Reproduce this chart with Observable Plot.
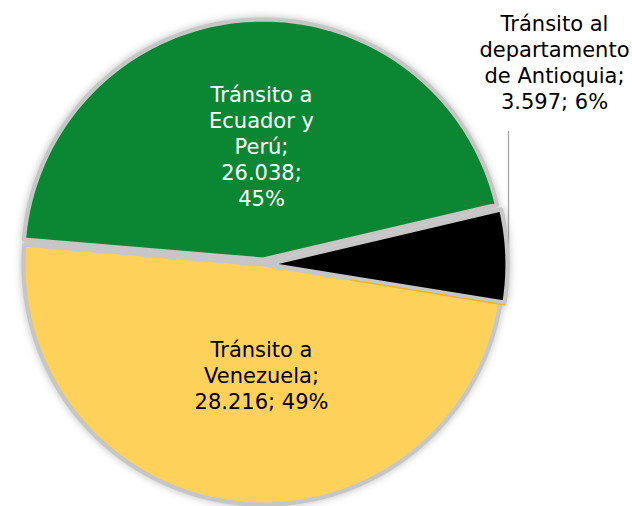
<!DOCTYPE html>
<html><head><meta charset="utf-8">
<script src="https://cdn.jsdelivr.net/npm/d3@7"></script>
<script src="https://cdn.jsdelivr.net/npm/@observablehq/plot@0.6"></script>
<style>html,body{margin:0;padding:0;background:#fff}</style>
</head><body><div id="chart"></div>
<script>
// ---- data ----
const categories = ["Tránsito al departamento de Antioquia", "Tránsito a Venezuela", "Tránsito a Ecuador y Perú"];
const values = [3597, 28216, 26038];
const percents = ["6%", "49%", "45%"];
const nameLines = [["Tránsito al", "departamento", "de Antioquia;"], ["Tránsito a", "Venezuela;"], ["Tránsito a", "Ecuador y", "Perú;"]];
const colors = ["#000000", "#fed25a", "#0b8734"];

// ---- layout ----
const W = 632, H = 506;
const cx = 263, cy = 264, R = 240;
const explode = [4, 0, 5];
const startDeg = 76.8;
const labelPos = [[554, 61], [261, 374], [261, 145]];
const labelColor = ["#000", "#000", "#fff"];
const splitValue = [false, false, true];

const fmt = d3.formatLocale({decimal: ",", thousands: ".", grouping: [3], currency: ["", ""]}).format(",d");

const arcs = d3.pie().sort(null)
  .startAngle(startDeg * Math.PI / 180)
  .endAngle(startDeg * Math.PI / 180 + 2 * Math.PI)(values);

function slicePoints(i) {
  const a = arcs[i];
  const mid = (a.startAngle + a.endAngle) / 2;
  const ox = cx + explode[i] * Math.sin(mid), oy = cy - explode[i] * Math.cos(mid);
  const pts = [{x: ox, y: oy}];
  const n = 120;
  for (let k = 0; k <= n; k++) {
    const t = a.startAngle + (a.endAngle - a.startAngle) * k / n;
    pts.push({x: ox + R * Math.sin(t), y: oy - R * Math.cos(t)});
  }
  return pts;
}
const slices = categories.map((c, i) => slicePoints(i));

const labels = categories.map((c, i) => ({
  x: labelPos[i][0], y: labelPos[i][1],
  text: nameLines[i].join("\n") + "\n" + fmt(values[i]) + ";" + (splitValue[i] ? "\n" : " ") + percents[i],
  color: labelColor[i]
}));

// thin yellow line along the end edge of the black slice
const bA = arcs[0];
const bMid = (bA.startAngle + bA.endAngle) / 2;
const bo = {x: cx + explode[0] * Math.sin(bMid), y: cy - explode[0] * Math.cos(bMid)};
const edge = [0.35, 1].map(f => ({x: bo.x + f * R * Math.sin(bA.endAngle), y: bo.y - f * R * Math.cos(bA.endAngle) + 2.2}));

const marks = [];
// leader line
marks.push(Plot.ruleX([508], {y1: 131, y2: 250, stroke: "#a6a6a6", strokeWidth: 1.3}));
// shadow
slices.forEach(s => marks.push(Plot.line(s, {x: "x", y: "y", curve: "linear-closed", fill: "#7a7a7a", stroke: "#7a7a7a", strokeWidth: 3, fillOpacity: 0.5, strokeOpacity: 0.5, imageFilter: "blur(4px)"})));
// slices (green, black, yellow order)
[2, 0, 1].forEach(i => marks.push(Plot.line(slices[i], {x: "x", y: "y", curve: "linear-closed", fill: colors[i], stroke: "#c6c6c6", strokeWidth: 4.2, strokeLinejoin: "round"})));
marks.push(Plot.line(edge, {x: "x", y: "y", stroke: "#f2b800", strokeWidth: 1.2}));
// labels
marks.push(Plot.text(labels, {x: "x", y: "y", text: "text", fill: "color", fontSize: 21, fontFamily: "DejaVu Sans, Verdana, sans-serif", lineHeight: 1.24, textAnchor: "middle", lineAnchor: "middle"}));

const chart = Plot.plot({
  width: W, height: H,
  margin: 0,
  x: {domain: [0, W], axis: null},
  y: {domain: [H, 0], axis: null},
  style: {background: "#fff"},
  marks
});
// fallback for blur filter on the shadow marks
chart.querySelectorAll('g[aria-label="line"]').forEach((g, k) => { if (k < 3) g.style.filter = "blur(4px)"; });
document.getElementById("chart").appendChild(chart);
</script>
</body></html>
